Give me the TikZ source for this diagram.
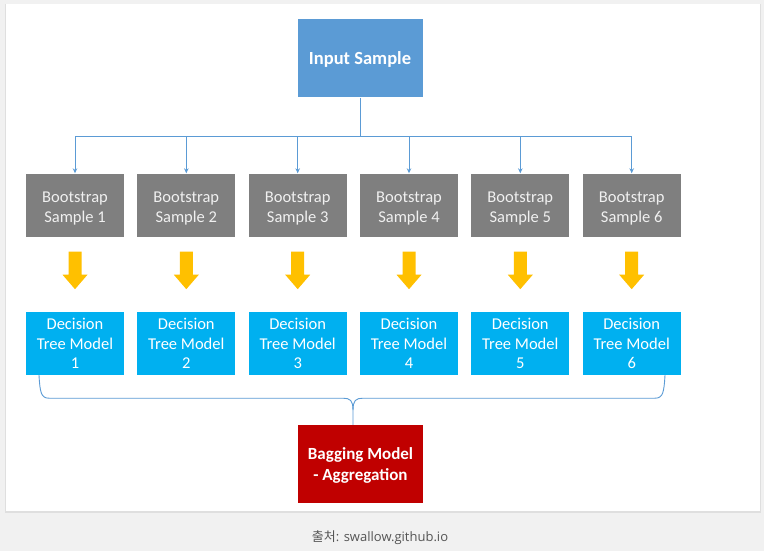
\documentclass[tikz,border=0pt]{standalone}
\usepackage{fontspec}
\setmainfont{Carlito}
\newfontfamily\krfont{Noto Sans CJK KR}
\newfontfamily\capfont{Open Sans}
\usetikzlibrary{arrows.meta,calc}
\definecolor{bgc}{HTML}{F1F1F1}
\definecolor{inblue}{HTML}{5B9BD5}
\definecolor{bsgray}{HTML}{7F7F7F}
\definecolor{bstext}{HTML}{F0F0F0}
\definecolor{dtblue}{HTML}{00B0F0}
\definecolor{bagred}{HTML}{C00000}
\definecolor{arryel}{HTML}{FFC000}
\definecolor{captxt}{HTML}{555555}
\tikzset{
  box/.style={minimum width=98pt, minimum height=63pt, inner sep=0pt, align=center, font=\fontsize{16.5}{19.5}\selectfont},
  bsbox/.style={box, fill=bsgray, text=bstext},
  dtbox/.style={box, fill=dtblue, text=white},
  bigbox/.style={minimum width=125pt, minimum height=78pt, inner sep=0pt, align=center, text=white},
  conn/.style={draw=inblue, line width=0.9pt},
  tipconn/.style={conn, -{Stealth[length=5pt,width=4.5pt]}},
}
\begin{document}
\begin{tikzpicture}[x=1pt, y=-1pt]
\useasboundingbox (0,0) rectangle (764,551);
\fill[bgc] (0,0) rectangle (764,551);
\fill[gray!25] (5,4) rectangle (761,512.5);
\fill[white] (6,4) rectangle (759.5,511);

\node[bigbox, fill=inblue, font=\fontsize{18.5}{20}\selectfont\bfseries] (in) at (360,58.5) {\rule{0pt}{15pt}Input Sample};

\foreach \i/\x in {1/75,2/186.3,3/297.7,4/409,5/520.3,6/631.7}{
  \node[bsbox] (b\i) at (\x,205) {\rule{0pt}{18pt}Bootstrap\\Sample \i};
  \node[dtbox] (d\i) at (\x,343.5) {Decision\\Tree Model\\\i};
  \fill[arryel] ($(b\i.south)+(-6.5,15)$) -- ++(13,0) -- ++(0,23) -- ++(6,0)
     -- ($(b\i.south)+(0,52.5)$) -- ($(b\i.south)+(-12.5,38)$) -- ++(6,0) -- cycle;
}

\draw[conn] (in.south) -- ++(0,39) coordinate (hub);
\draw[conn] (b1.north |- hub) -- (b6.north |- hub);
\foreach \i in {1,...,6}{
  \draw[tipconn] (b\i.north |- hub) -- (b\i.north);
}

\node[bigbox, fill=bagred, font=\fontsize{17}{20.5}\selectfont\bfseries] (bag) at (360.5,464) {\rule{0pt}{15pt}Bagging Model\\- Aggregation};

\coordinate (L) at ($(d1.south)+(-36,0)$);
\coordinate (R) at ($(d6.south)+(33.3,0)$);
\coordinate (T) at ($(bag.north)+(-7.5,0)$);
\draw[conn] (L) .. controls ($(L)+(1,17)$) and ($(L)+(2,23)$) .. ($(L)+(10,23)$)
  -- ($(T |- L)+(-10,23)$) .. controls ($(T |- L)+(-3,23)$) and ($(T |- L)+(0,25)$) .. ($(T |- L)+(0,35)$) -- (T);
\draw[conn] ($(T |- L)+(0,35)$) .. controls ($(T |- L)+(0,25)$) and ($(T |- L)+(3,23)$) .. ($(T |- L)+(10,23)$)
  -- ($(R)+(-10,23)$) .. controls ($(R)+(-2,23)$) and ($(R)+(-1,17)$) .. (R);

\node[text=captxt, font=\capfont\fontsize{13}{15}\selectfont] (cap) at (380,538) {{\krfont 출처}: swallow.github.io};
\end{tikzpicture}
\end{document}
